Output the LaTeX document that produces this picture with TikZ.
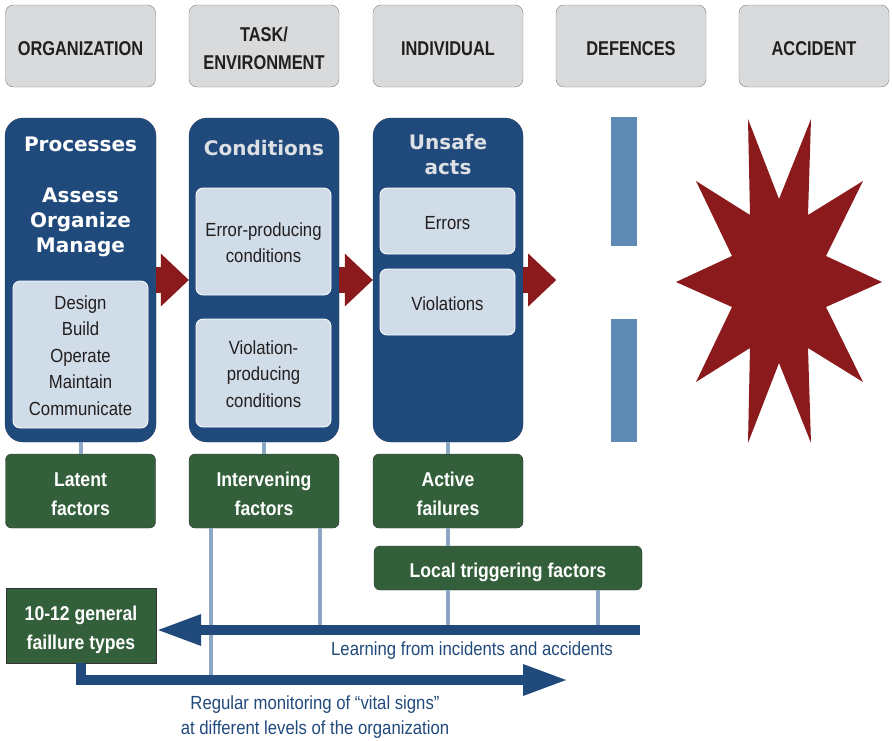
\documentclass[tikz,border=0pt]{standalone}
\usepackage{fontspec}
\setmainfont{Liberation Sans}
\newfontfamily\hdrfont[FakeStretch=0.82]{Liberation Sans}
\newfontfamily\cndfont[FakeStretch=0.88]{Liberation Sans}
\newfontfamily\hvyfont{DejaVu Sans}
\usetikzlibrary{arrows.meta}
\definecolor{hdrgray}{HTML}{D9DADC}
\definecolor{hdredge}{HTML}{7F8082}
\definecolor{inkdark}{HTML}{231F20}
\definecolor{procblue}{HTML}{214A7C}
\definecolor{palebox}{HTML}{D0DCE7}
\definecolor{capgray}{HTML}{DDE0E4}
\definecolor{accred}{HTML}{8B1A1D}
\definecolor{defblue}{HTML}{5E8AB4}
\definecolor{grn}{HTML}{33603A}
\definecolor{tieblue}{HTML}{8EA7C6}
\newcommand\lift[1]{\rule{0pt}{#1}}
\begin{document}
\begin{tikzpicture}[x=1pt,y=-1pt,
  drop/.style={execute at begin node={\lift{#1}}},
  hdrbox/.style={draw=hdredge,fill=hdrgray,rounded corners=8pt,minimum width=150pt,minimum height=82pt,
    align=center,text=inkdark,font=\hdrfont\bfseries\fontsize{20}{28}\selectfont},
  procbox/.style={draw=procblue!85!black,fill=procblue,rounded corners=18pt,minimum width=150pt,minimum height=324pt},
  pale/.style={draw=white,line width=.8pt,fill=palebox,rounded corners=7pt,minimum width=135pt,
    align=center,text=inkdark,font=\cndfont\fontsize{19}{26.5}\selectfont},
  heavy/.style={align=center,font=\hvyfont\bfseries\fontsize{20}{25}\selectfont},
  grnbox/.style={draw=black!80,fill=grn,rounded corners=6pt,minimum width=150pt,minimum height=74pt,
    align=center,text=white,font=\cndfont\bfseries\fontsize{20}{29}\selectfont},
  redarr/.style={draw=accred,line width=26pt,-{Triangle[width=53pt,length=28pt,line width=0pt]}},
  bigarr/.style={draw=procblue,line width=10pt,-{Triangle[width=32pt,length=43pt,line width=0pt]}},
  tie/.style={draw=tieblue,line width=4pt},
  note/.style={align=center,text=procblue,font=\cndfont\fontsize{19}{25}\selectfont}]
\useasboundingbox (0,0) rectangle (892,740);

% top row
\node[hdrbox,drop=19.5pt] (horg) at (80.5,46) {ORGANIZATION};
\node[hdrbox] (htask) at (264,46) {\lift{20pt}TASK/\\ENVIRONMENT};
\node[hdrbox,drop=19.5pt] (hind) at (448,46) {INDIVIDUAL};
\node[hdrbox,drop=19.5pt] (hdef) at (631,46) {DEFENCES};
\node[hdrbox,drop=19.5pt] (hacc) at (814,46) {ACCIDENT};

% the three blue columns
\node[procbox,minimum width=151pt] (procs) at (80.5,280) {};
\node[procbox] (conds) at (264,280) {};
\node[procbox] (acts) at (448,280) {};

\node[heavy,text=white] (proct) at (80.5,144) {Processes};
\node[heavy,text=white] (procv) at (80.5,222) {Assess\\Organize\\Manage};
\node[pale,minimum height=147pt] (procl) at (80.5,354.5) {\lift{15.5pt}Design\\Build\\Operate\\Maintain\\Communicate};

\node[heavy,text=capgray] (condt) at (264,148) {Conditions};
\node[pale,minimum height=107pt] (epc) at (263.5,241.5) {\lift{16pt}Error-producing\\conditions};
\node[pale,minimum height=108pt] (vpc) at (263.5,373) {\lift{16pt}Violation-\\producing\\conditions};

\node[heavy,text=capgray] (actt) at (448,155) {Unsafe\\acts};
\node[pale,minimum height=66pt,drop=17.5pt] (errs) at (447.5,221) {Errors};
\node[pale,minimum height=66pt,drop=17.5pt] (viols) at (447.5,302) {Violations};

\draw[redarr] (procs.east) -- (conds.west);
\draw[redarr] (conds.east) -- (acts.west);
\draw[redarr] (acts.east) -- +(33,0);

% defences and accident
\fill[defblue] (611,117) rectangle (637,246);
\fill[defblue] (611,319) rectangle (637,442);
\fill[accred] (748,119) -- (779,199) -- (811,119) -- (808,215) -- (863,181) -- (826,256)
  -- (882,282) -- (826,307) -- (863,382) -- (808,348) -- (811,443) -- (779,363)
  -- (748,443) -- (750,348) -- (696,382) -- (732,307) -- (676,282) -- (732,256)
  -- (696,181) -- (750,215) -- cycle;

% factors
\node[grnbox] (latent) at (80.5,491) {\lift{20.5pt}Latent\\factors};
\node[grnbox] (interv) at (264,491) {\lift{20.5pt}Intervening\\factors};
\node[grnbox] (active) at (448,491) {\lift{20.5pt}Active\\failures};
\node[grnbox,minimum width=268pt,minimum height=44pt,drop=24pt] (local) at (508,568) {Local triggering factors};
\node[grnbox,rounded corners=0pt,minimum width=150pt,minimum height=75pt] (general) at (81,625.5) {\lift{24pt}10-12 general\\faillure types};

\coordinate (lrn) at (640,630);
\coordinate (mon) at (566,680);

\draw[tie] (procs.south) -- (latent.north);
\draw[tie] (conds.south) -- (interv.north);
\draw[tie] (acts.south) -- (active.north);
\draw[tie] (active.south) -- (active.south |- local.north);
\draw[tie] (211,0 |- interv.south) -- (211,0 |- mon);
\draw[tie] (320,0 |- interv.south) -- (320,0 |- lrn);
\draw[tie] (448,0 |- local.south) -- (448,0 |- lrn);
\draw[tie] (598,0 |- local.south) -- (598,0 |- lrn);

\draw[bigarr,shorten >=2pt] (lrn) -- (general.east |- lrn);
\draw[bigarr] (general.south) |- (mon);

\node[note] (lrnt) at (472,651) {Learning from incidents and accidents};
\node[note] (mont) at (315,717) {Regular monitoring of “vital signs”\\at different levels of the organization};
\end{tikzpicture}
\end{document}
